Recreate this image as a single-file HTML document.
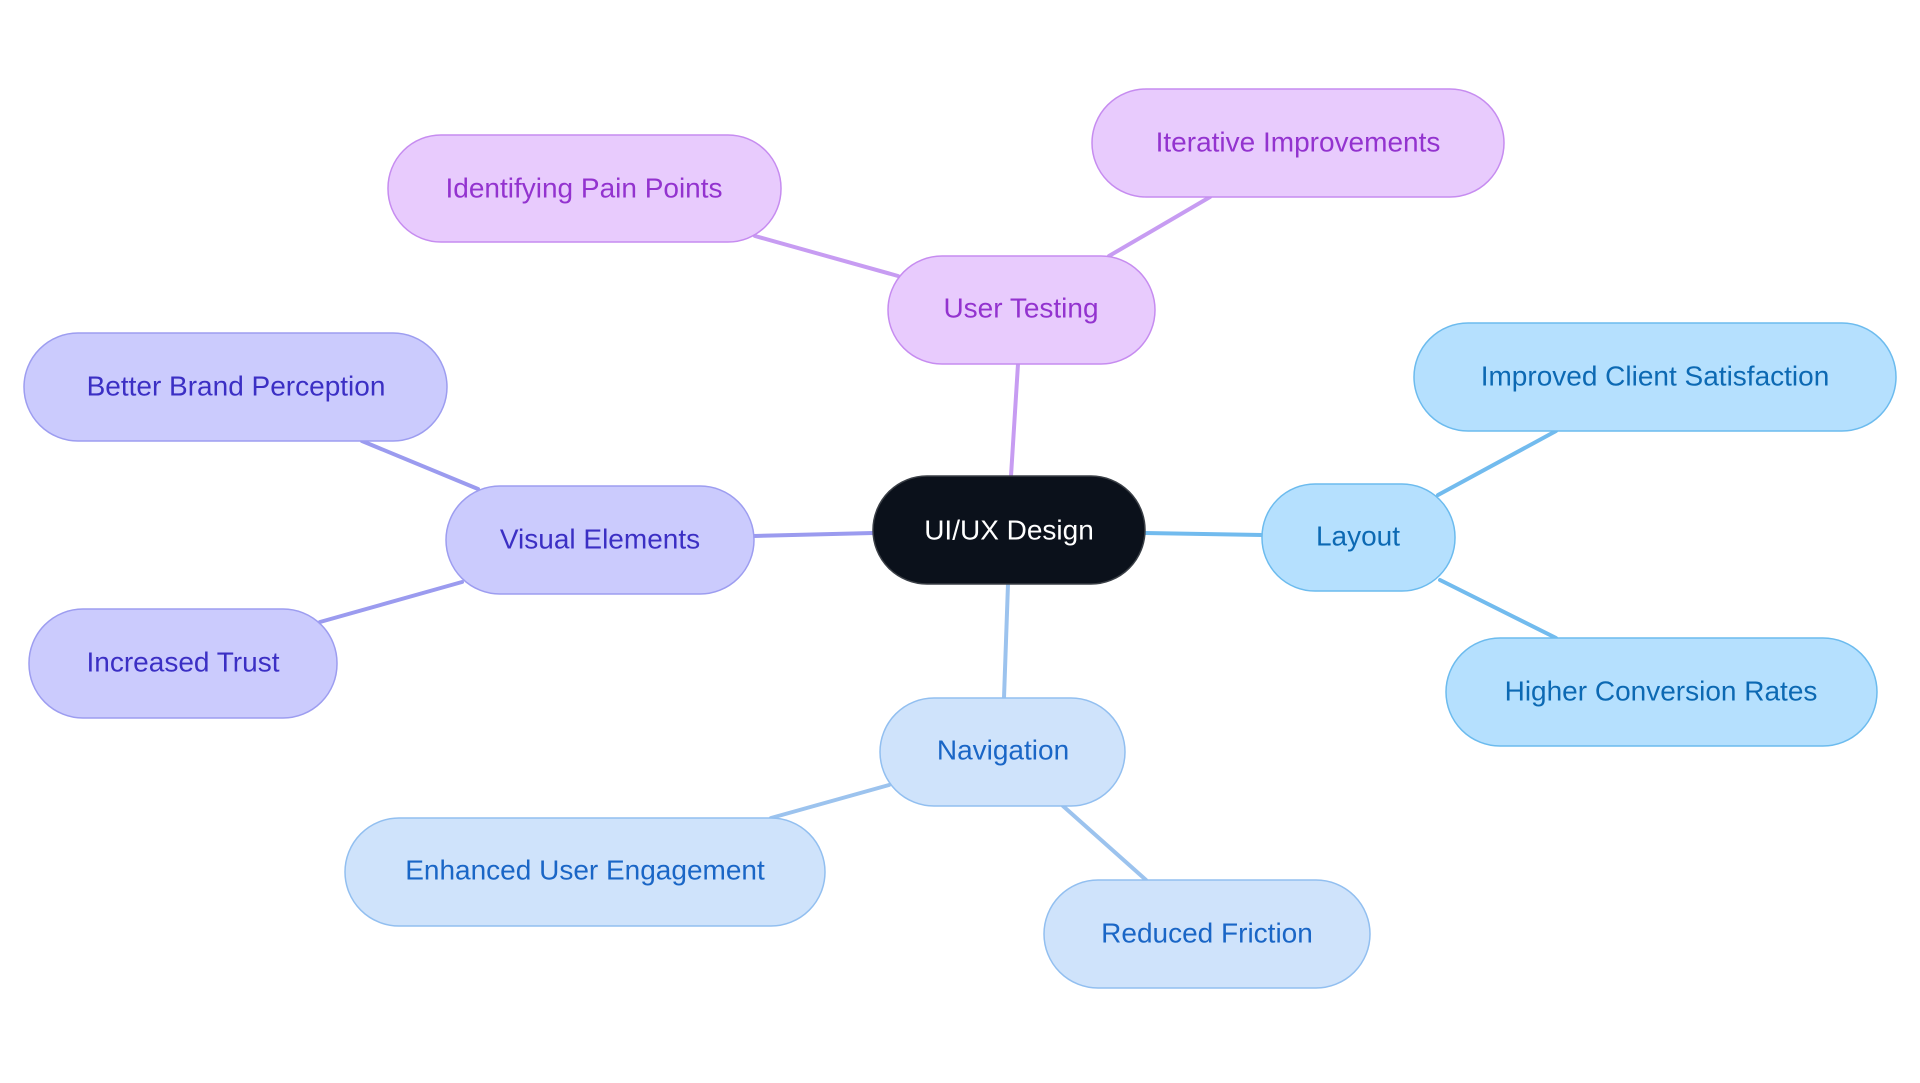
<!DOCTYPE html>
<html><head><meta charset="utf-8"><style>
html,body{margin:0;padding:0;background:#fff;}
svg{display:block}
text{font-family:"Liberation Sans",sans-serif;font-size:28px;text-anchor:middle;dominant-baseline:central}
</style></head><body>
<svg width="1920" height="1083" viewBox="0 0 1920 1083">
<g stroke-width="4" fill="none" stroke-linecap="round">
<g stroke="#c79cf2">
<line x1="1011" y1="476" x2="1018" y2="364"/>
<line x1="1109" y1="256" x2="1210" y2="197"/>
<line x1="898" y1="276" x2="755" y2="236"/>
</g>
<g stroke="#9b9bef">
<line x1="873" y1="533" x2="754" y2="536"/>
<line x1="478" y1="489" x2="362" y2="441"/>
<line x1="462" y1="582" x2="320" y2="622"/>
</g>
<g stroke="#72bbee">
<line x1="1145" y1="533" x2="1262" y2="535"/>
<line x1="1438" y1="495" x2="1556" y2="431"/>
<line x1="1440" y1="580" x2="1556" y2="638"/>
</g>
<g stroke="#9cc3ee">
<line x1="1008" y1="584" x2="1004" y2="698"/>
<line x1="889" y1="785" x2="771" y2="818"/>
<line x1="1063" y1="806" x2="1146" y2="880"/>
</g>
</g>
<g stroke-width="1.5">
<rect x="873" y="476" width="272" height="108" rx="54" fill="#0b111b" stroke="#3a3f46"/>
<text x="1009" y="530" fill="#fff">UI/UX Design</text>

<g fill="#e8cbfd" stroke="#c68cf0">
<rect x="888" y="256" width="267" height="108" rx="54"/>
<rect x="1092" y="89" width="412" height="108" rx="54"/>
<rect x="388" y="135" width="393" height="107" rx="53"/>
</g>
<g fill="#9333cf">
<text x="1021" y="308">User Testing</text>
<text x="1298" y="142">Iterative Improvements</text>
<text x="584" y="188">Identifying Pain Points</text>
</g>

<g fill="#cbcbfd" stroke="#9d9df0">
<rect x="446" y="486" width="308" height="108" rx="54"/>
<rect x="24" y="333" width="423" height="108" rx="54"/>
<rect x="29" y="609" width="308" height="109" rx="54"/>
</g>
<g fill="#3b2fc4">
<text x="600" y="539">Visual Elements</text>
<text x="236" y="386">Better Brand Perception</text>
<text x="183" y="662">Increased Trust</text>
</g>

<g fill="#b5e0fe" stroke="#6cbbee">
<rect x="1262" y="484" width="193" height="107" rx="53"/>
<rect x="1414" y="323" width="482" height="108" rx="54"/>
<rect x="1446" y="638" width="431" height="108" rx="54"/>
</g>
<g fill="#0c69b3">
<text x="1358" y="536">Layout</text>
<text x="1655" y="376">Improved Client Satisfaction</text>
<text x="1661" y="691">Higher Conversion Rates</text>
</g>

<g fill="#cfe3fb" stroke="#92bff0">
<rect x="880" y="698" width="245" height="108" rx="54"/>
<rect x="345" y="818" width="480" height="108" rx="54"/>
<rect x="1044" y="880" width="326" height="108" rx="54"/>
</g>
<g fill="#1a66c6">
<text x="1003" y="750">Navigation</text>
<text x="585" y="870">Enhanced User Engagement</text>
<text x="1207" y="933">Reduced Friction</text>
</g>
</g>
</svg>
</body></html>
